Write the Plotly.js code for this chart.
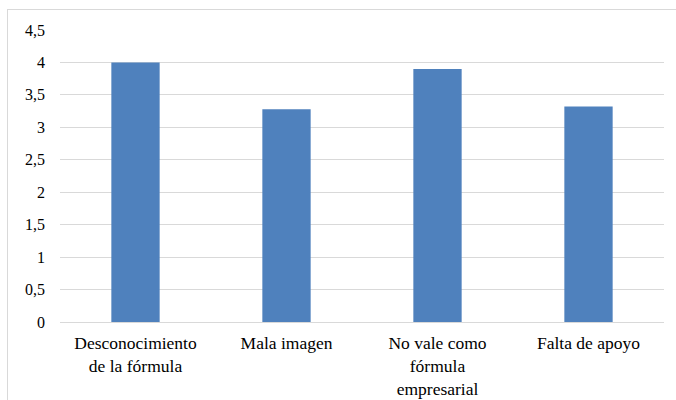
<!DOCTYPE html>
<html><head><meta charset="utf-8">
<script src="https://cdn.plot.ly/plotly-3.0.1.min.js"></script>
<style>
html,body{margin:0;padding:0;background:#fff;overflow:hidden}
#chart{width:676px;height:400px;position:relative}
#frame{position:absolute;left:7px;top:9px;width:700px;height:420px;border:1px solid #d9d9d9;pointer-events:none;z-index:5}
</style></head><body>
<div id="frame"></div>
<div id="chart"></div>
<script>
const categories = ["Desconocimiento<br>de la fórmula", "Mala imagen", "No vale como<br>fórmula<br>empresarial", "Falta de apoyo"];
const values = [4.0, 3.28, 3.9, 3.32];
const yTicks = [0, 0.5, 1, 1.5, 2, 2.5, 3, 3.5, 4, 4.5];
const FONT = 'Times New Roman, Liberation Serif, serif';

Plotly.newPlot('chart', [{
  type: 'bar', x: categories, y: values,
  marker: {color: '#4f81bd'},
  hoverinfo: 'none'
}], {
  width: 676, height: 400,
  margin: {l: 60, r: 12, t: 30, b: 78},
  separators: ',.',
  bargap: 0.68,
  font: {family: FONT, size: 16, color: '#000'},
  paper_bgcolor: '#fff', plot_bgcolor: '#fff',
  xaxis: {showgrid: false, showline: true, linecolor: '#d9d9d9', linewidth: 1, ticks: 'outside', ticklen: 5, tickcolor: 'rgba(0,0,0,0)', tickfont: {family: FONT, size: 17.5, color: '#000'}},
  yaxis: {range: [0, 4.5], tickvals: yTicks, tickformat: ',.1~f', showgrid: true, gridcolor: '#d9d9d9', gridwidth: 1, zeroline: false, showline: false, ticks: '', ticklabelstandoff: 14, tickfont: {family: FONT, size: 16, color: '#000'}},
  showlegend: false
}, {displayModeBar: false, staticPlot: true});
</script></body></html>
